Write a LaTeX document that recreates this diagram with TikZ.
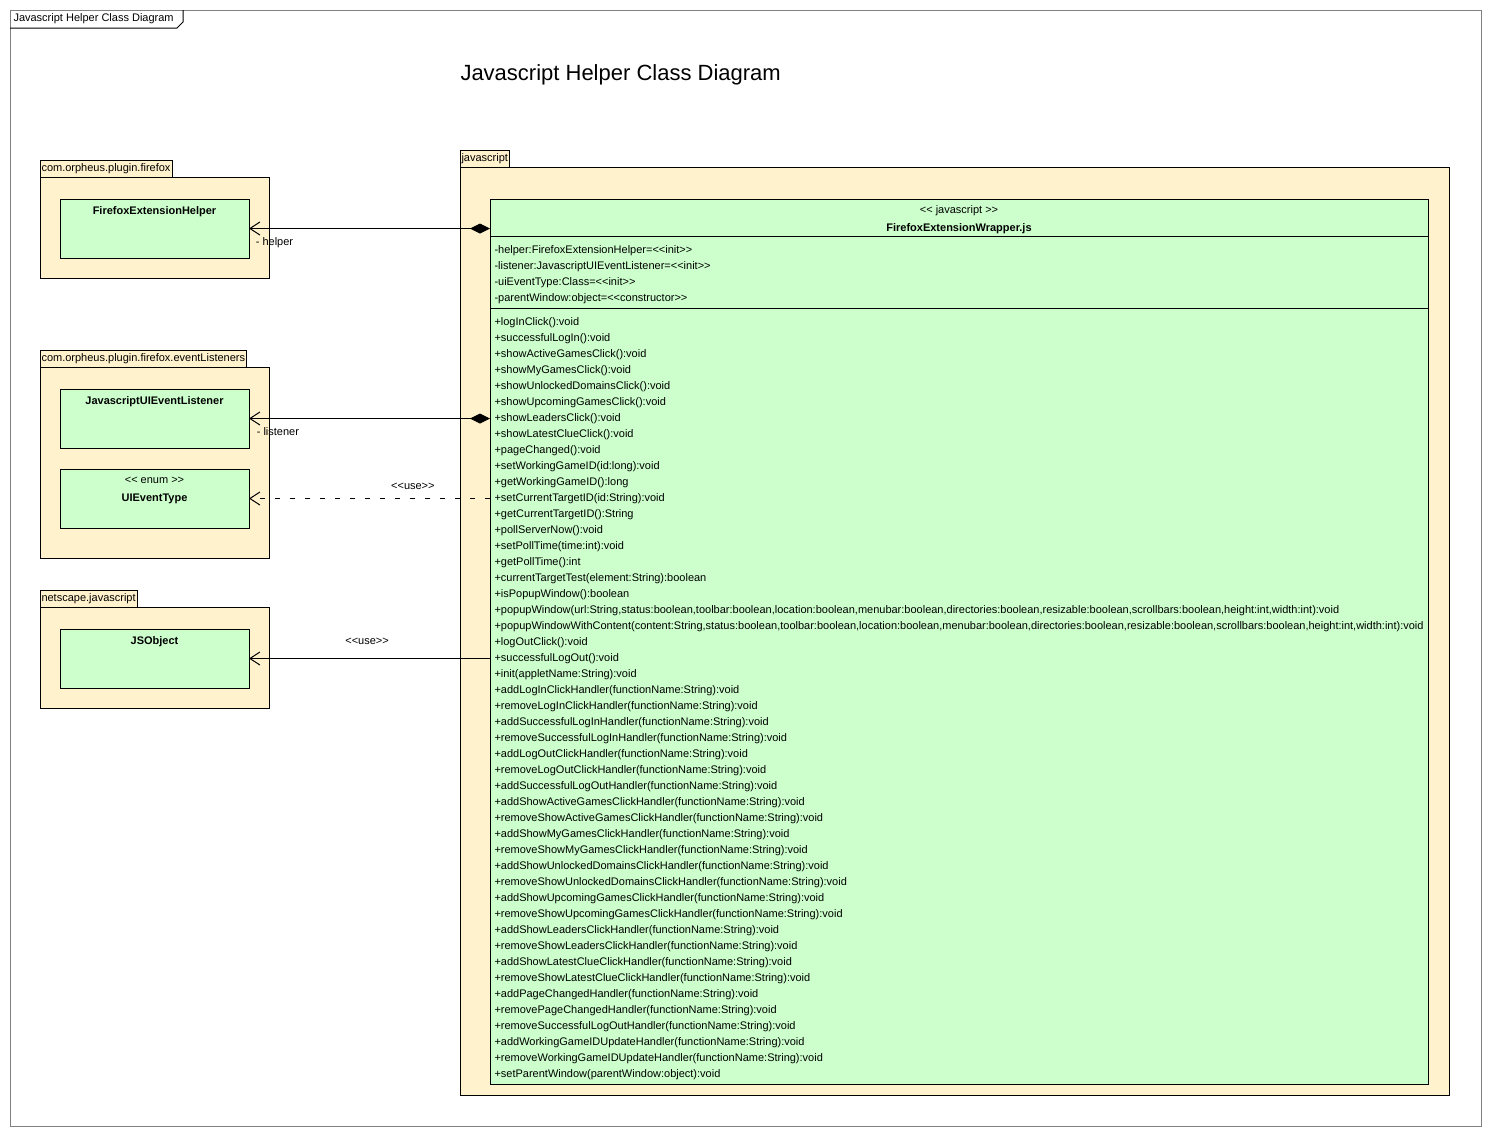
\documentclass[tikz,border=0pt]{standalone}
\usepackage{fontspec}
\setmainfont{Liberation Sans}
\usetikzlibrary{arrows.meta, positioning}
\definecolor{pkgfill}{RGB}{255,242,204}
\definecolor{clsfill}{RGB}{204,255,204}
\definecolor{framegray}{RGB}{128,128,128}
% guillemets without the TeX ligature mapping
\newcommand{\openst}{<\kern0pt<}
\newcommand{\closest}{>\kern0pt>}
\tikzset{
    pkgbody/.style={draw, fill=pkgfill, anchor=north west, outer sep=0pt},
    pkgtab/.style={draw, fill=pkgfill, anchor=south west, outer sep=0pt,
        inner xsep=1.5pt, inner ysep=0pt, minimum height=17, text height=8pt, text depth=2pt},
    classbox/.style={draw, fill=clsfill, anchor=north west, outer sep=0pt,
        minimum width=189, minimum height=59},
    clsname/.style={anchor=base, inner sep=0pt, font=\fontsize{11}{13}\selectfont\bfseries},
    stereo/.style={anchor=base, inner sep=0pt},
    member/.style={anchor=base west, inner sep=0pt},
    compose/.style={{Straight Barb[length=10pt,width=13pt]}-{Diamond[length=20pt,width=10pt]}},
    usedep/.style={-{Straight Barb[length=10pt,width=13pt]}},
    usedash/.style={usedep, dash pattern=on 5pt off 10pt}
}
\begin{document}
\begin{tikzpicture}[x=1pt, y=-1pt, line width=1pt, font=\fontsize{11}{13}\selectfont]
    \useasboundingbox (0,0) rectangle (1490,1136);

    % diagram frame
    \draw[framegray] (10,10) rectangle (1481,1126);
    \node[anchor=west, inner sep=0pt] (framelbl) at (13,19) {Javascript Helper Class Diagram};
    \draw (10,28) -- (177,28) -- (183,22) -- (183,10);
    \node[anchor=west, inner sep=0pt, font=\fontsize{22}{26}\selectfont] (title) at (460,75) {Javascript Helper Class Diagram};

    % com.orpheus.plugin.firefox
    \node[pkgbody, minimum width=229, minimum height=101] (fxpkg) at (40,177) {};
    \node[pkgtab] (fxtab) at (fxpkg.north west) {com.orpheus.plugin.firefox};
    \node[classbox] (helper) at (60,199) {};
    \node[clsname] (helpername) at ([yshift=-15pt]helper.north) {FirefoxExtensionHelper};

    % com.orpheus.plugin.firefox.eventListeners
    \node[pkgbody, minimum width=229, minimum height=191] (evpkg) at (40,367) {};
    \node[pkgtab] (evtab) at (evpkg.north west) {com.orpheus.plugin.firefox.eventListeners};
    \node[classbox] (listener) at (60,389) {};
    \node[clsname] (listenername) at ([yshift=-15pt]listener.north) {JavascriptUIEventListener};
    \node[classbox] (evtype) at (60,469) {};
    \node[stereo] (evtypest) at ([yshift=-14pt]evtype.north) {\openst{} enum \closest};
    \node[clsname] (evtypename) at ([yshift=-32pt]evtype.north) {UIEventType};

    % netscape.javascript
    \node[pkgbody, minimum width=229, minimum height=101] (nspkg) at (40,607) {};
    \node[pkgtab] (nstab) at (nspkg.north west) {netscape.javascript};
    \node[classbox] (jsobj) at (60,629) {};
    \node[clsname] (jsobjname) at ([yshift=-15pt]jsobj.north) {JSObject};

    % javascript
    \node[pkgbody, minimum width=989, minimum height=928] (jspkg) at (460,167) {};
    \node[pkgtab] (jstab) at (jspkg.north west) {javascript};
    \node[classbox, minimum width=938, minimum height=885] (wrap) at (490,199) {};
    \node[stereo] (wrapst) at ([yshift=-14pt]wrap.north) {\openst{} javascript \closest};
    \node[clsname] (wrapname) at ([yshift=-32pt]wrap.north) {FirefoxExtensionWrapper.js};
    \draw ([yshift=-37pt]wrap.north west) -- ([yshift=-37pt]wrap.north east);
    \draw ([yshift=-109pt]wrap.north west) -- ([yshift=-109pt]wrap.north east);

    \foreach \a [count=\i from 0] in {
        -helper:FirefoxExtensionHelper=\openst init\closest,
        -listener:JavascriptUIEventListener=\openst init\closest,
        -uiEventType:Class=\openst init\closest,
        -parentWindow:object=\openst constructor\closest}
        \node[member] at (494, 253+16*\i) {\a};

    \foreach \m [count=\i from 0] in {
        +logInClick():void,
        +successfulLogIn():void,
        +showActiveGamesClick():void,
        +showMyGamesClick():void,
        +showUnlockedDomainsClick():void,
        +showUpcomingGamesClick():void,
        +showLeadersClick():void,
        +showLatestClueClick():void,
        +pageChanged():void,
        +setWorkingGameID(id:long):void,
        +getWorkingGameID():long,
        +setCurrentTargetID(id:String):void,
        +getCurrentTargetID():String,
        +pollServerNow():void,
        +setPollTime(time:int):void,
        +getPollTime():int,
        +currentTargetTest(element:String):boolean,
        +isPopupWindow():boolean,
        {+popupWindow(url:String,status:boolean,toolbar:boolean,location:boolean,menubar:boolean,directories:boolean,resizable:boolean,scrollbars:boolean,height:int,width:int):void},
        {+popupWindowWithContent(content:String,status:boolean,toolbar:boolean,location:boolean,menubar:boolean,directories:boolean,resizable:boolean,scrollbars:boolean,height:int,width:int):void},
        +logOutClick():void,
        +successfulLogOut():void,
        +init(appletName:String):void,
        +addLogInClickHandler(functionName:String):void,
        +removeLogInClickHandler(functionName:String):void,
        +addSuccessfulLogInHandler(functionName:String):void,
        +removeSuccessfulLogInHandler(functionName:String):void,
        +addLogOutClickHandler(functionName:String):void,
        +removeLogOutClickHandler(functionName:String):void,
        +addSuccessfulLogOutHandler(functionName:String):void,
        +addShowActiveGamesClickHandler(functionName:String):void,
        +removeShowActiveGamesClickHandler(functionName:String):void,
        +addShowMyGamesClickHandler(functionName:String):void,
        +removeShowMyGamesClickHandler(functionName:String):void,
        +addShowUnlockedDomainsClickHandler(functionName:String):void,
        +removeShowUnlockedDomainsClickHandler(functionName:String):void,
        +addShowUpcomingGamesClickHandler(functionName:String):void,
        +removeShowUpcomingGamesClickHandler(functionName:String):void,
        +addShowLeadersClickHandler(functionName:String):void,
        +removeShowLeadersClickHandler(functionName:String):void,
        +addShowLatestClueClickHandler(functionName:String):void,
        +removeShowLatestClueClickHandler(functionName:String):void,
        +addPageChangedHandler(functionName:String):void,
        +removePageChangedHandler(functionName:String):void,
        +removeSuccessfulLogOutHandler(functionName:String):void,
        +addWorkingGameIDUpdateHandler(functionName:String):void,
        +removeWorkingGameIDUpdateHandler(functionName:String):void,
        +setParentWindow(parentWindow:object):void}
        \node[member] at (494, 325+16*\i) {\m};

    % associations
    \draw[compose] (helper.east) -- (helper.east -| wrap.west);
    \node[anchor=west] (helperrole) at ([xshift=3pt, yshift=-14.5pt]helper.east) {- helper};
    \draw[compose] (listener.east) -- (listener.east -| wrap.west);
    \node[anchor=west] (listenerrole) at ([xshift=4pt, yshift=-13.5pt]listener.east) {- listener};
    \draw[usedash] (evtype.east -| wrap.west) -- node[above=5pt, pos=0.32] (evuse) {\openst use\closest} (evtype.east);
    \draw[usedep] (jsobj.east -| wrap.west) -- node[above=10pt, pos=0.51] (jsuse) {\openst use\closest} (jsobj.east);
\end{tikzpicture}
\end{document}
